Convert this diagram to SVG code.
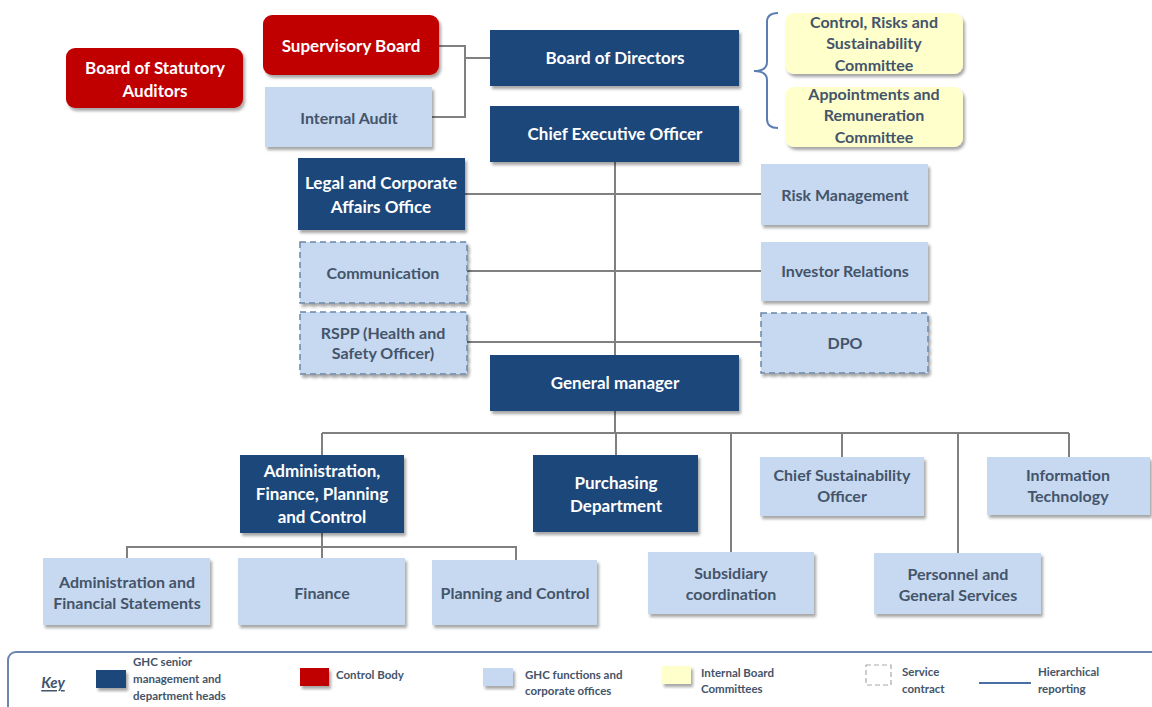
<svg xmlns="http://www.w3.org/2000/svg" width="1152" height="707" viewBox="0 0 1152 707">
<defs>
<filter id="sh" x="-10%" y="-10%" width="125%" height="135%">
<feDropShadow dx="2" dy="3" stdDeviation="1.5" flood-color="#000" flood-opacity="0.35"/>
</filter>
<style>
.navy{fill:#1F467A;filter:url(#sh)}
.red{fill:#C00000;filter:url(#sh)}
.lb{fill:#C6D9F0;filter:url(#sh)}
.lbd{fill:#C6D9F0;stroke:#6A86A8;stroke-width:1.5;stroke-dasharray:6,4;filter:url(#sh)}
.yel{fill:#FFFFCC;filter:url(#sh)}
text{font-family:Lato,"Open Sans","Liberation Sans",sans-serif;font-weight:bold;text-anchor:middle;dominant-baseline:central}
.w{fill:#fff;font-size:17px}
.d{fill:#44546A;font-size:16px}
.lg{fill:#44546A;font-size:11.5px;text-anchor:start;font-weight:bold}
.conn{fill:none;stroke:#808080;stroke-width:2}
</style>
</defs>
<rect width="1152" height="707" fill="#fff"/>
<g id="connectors" class="conn">
<polyline points="439,46 465,46 465,117 432,117"/>
<line x1="465" y1="58" x2="490" y2="58"/>
<line x1="615" y1="162" x2="615" y2="355"/>
<line x1="465" y1="194" x2="761" y2="194"/>
<line x1="467" y1="271" x2="761" y2="271"/>
<line x1="467" y1="342" x2="761" y2="342"/>
<line x1="615" y1="411" x2="615" y2="433"/>
<line x1="322" y1="433" x2="1069" y2="433"/>
<line x1="322" y1="433" x2="322" y2="455"/>
<line x1="616" y1="433" x2="616" y2="455"/>
<line x1="731" y1="433" x2="731" y2="552"/>
<line x1="842" y1="433" x2="842" y2="457"/>
<line x1="958" y1="433" x2="958" y2="553"/>
<line x1="1069" y1="433" x2="1069" y2="457"/>
<line x1="322" y1="533" x2="322" y2="558"/>
<polyline points="127,558 127,547 516,547 516,560"/>
<path d="M778,13 Q767,13 767,22 L767,62 Q767,71 754,71 Q767,71 767,80 L767,119 Q767,128 778,128" stroke="#5B7DB1"/>
</g>
<g id="n-statutory"><rect class="red" x="66" y="48" width="177" height="60" rx="9"/><text class="w" x="155" y="67">Board of Statutory</text><text class="w" x="155" y="90">Auditors</text></g>
<g id="n-supervisory"><rect class="red" x="263" y="15" width="176" height="60" rx="9"/><text class="w" x="351" y="45">Supervisory Board</text></g>
<g id="n-internal-audit"><rect class="lb" x="265" y="87" width="167" height="60"/><text class="d" x="349" y="117">Internal Audit</text></g>
<g id="n-bod"><rect class="navy" x="490" y="30" width="249" height="56"/><text class="w" x="615" y="57">Board of Directors</text></g>
<g id="n-ceo"><rect class="navy" x="490" y="106" width="249" height="56"/><text class="w" x="615" y="133">Chief Executive Officer</text></g>
<g id="n-crs"><rect class="yel" x="785" y="13" width="178" height="61" rx="9"/><text class="d" x="874" y="21">Control, Risks and</text><text class="d" x="874" y="42">Sustainability</text><text class="d" x="874" y="64">Committee</text></g>
<g id="n-arc"><rect class="yel" x="785" y="87" width="178" height="60" rx="9"/><text class="d" x="874" y="93">Appointments and</text><text class="d" x="874" y="114">Remuneration</text><text class="d" x="874" y="136">Committee</text></g>
<g id="n-legal"><rect class="navy" x="298" y="158" width="167" height="72"/><text class="w" x="381" y="182">Legal and Corporate</text><text class="w" x="381" y="206">Affairs Office</text></g>
<g id="n-risk"><rect class="lb" x="761" y="164" width="167" height="61"/><text class="d" x="845" y="194">Risk Management</text></g>
<g id="n-comm"><rect class="lbd" x="300" y="242" width="167" height="61"/><text class="d" x="383" y="272">Communication</text></g>
<g id="n-ir"><rect class="lb" x="761" y="242" width="167" height="59"/><text class="d" x="845" y="270">Investor Relations</text></g>
<g id="n-rspp"><rect class="lbd" x="300" y="312" width="167" height="62"/><text class="d" x="383" y="332">RSPP (Health and</text><text class="d" x="383" y="352">Safety Officer)</text></g>
<g id="n-dpo"><rect class="lbd" x="761" y="313" width="167" height="60"/><text class="d" x="845" y="342">DPO</text></g>
<g id="n-gm"><rect class="navy" x="490" y="355" width="249" height="56"/><text class="w" x="615" y="382">General manager</text></g>
<g id="n-afpc"><rect class="navy" x="240" y="455" width="164" height="78"/><text class="w" x="322" y="470">Administration,</text><text class="w" x="322" y="493">Finance, Planning</text><text class="w" x="322" y="516">and Control</text></g>
<g id="n-purch"><rect class="navy" x="533" y="455" width="165" height="77"/><text class="w" x="616" y="482">Purchasing</text><text class="w" x="616" y="505">Department</text></g>
<g id="n-cso"><rect class="lb" x="760" y="457" width="164" height="59"/><text class="d" x="842" y="474">Chief Sustainability</text><text class="d" x="842" y="495">Officer</text></g>
<g id="n-it"><rect class="lb" x="987" y="457" width="163" height="58"/><text class="d" x="1068" y="474">Information</text><text class="d" x="1068" y="495">Technology</text></g>
<g id="n-sub"><rect class="lb" x="648" y="552" width="166" height="62"/><text class="d" x="731" y="572">Subsidiary</text><text class="d" x="731" y="593">coordination</text></g>
<g id="n-pers"><rect class="lb" x="874" y="553" width="167" height="61"/><text class="d" x="958" y="573">Personnel and</text><text class="d" x="958" y="594">General Services</text></g>
<g id="n-afs"><rect class="lb" x="43" y="558" width="167" height="67"/><text class="d" x="127" y="581">Administration and</text><text class="d" x="127" y="602">Financial Statements</text></g>
<g id="n-fin"><rect class="lb" x="238" y="558" width="167" height="67"/><text class="d" x="322" y="592">Finance</text></g>
<g id="n-pc"><rect class="lb" x="432" y="560" width="165" height="65"/><text class="d" x="515" y="592">Planning and Control</text></g>
<g id="legend">
<rect x="8" y="652" width="1160" height="70" rx="8" fill="#fff" stroke="#6A86B0" stroke-width="2"/>
<text x="53" y="682" style="fill:#44546A;font-size:15px;font-style:italic;text-decoration:underline">Key</text>
<rect x="96" y="670" width="30" height="18" fill="#1F467A" filter="url(#sh)"/>
<text class="lg" x="133" y="661">GHC senior</text><text class="lg" x="133" y="678">management and</text><text class="lg" x="133" y="695">department heads</text>
<rect x="300" y="668" width="29" height="18" fill="#C00000" filter="url(#sh)"/>
<text class="lg" x="336" y="674">Control Body</text>
<rect x="483" y="668" width="30" height="18" fill="#C6D9F0" filter="url(#sh)"/>
<text class="lg" x="525" y="674">GHC functions and</text><text class="lg" x="525" y="690">corporate offices</text>
<rect x="662" y="666" width="29" height="18" fill="#FFFFCC" filter="url(#sh)"/>
<text class="lg" x="701" y="672">Internal Board</text><text class="lg" x="701" y="688">Committees</text>
<rect x="866" y="665" width="25" height="20" fill="#fff" stroke="#AAAAAA" stroke-width="1.2" stroke-dasharray="5,3"/>
<text class="lg" x="902" y="671">Service</text><text class="lg" x="902" y="688">contract</text>
<line x1="979" y1="683" x2="1031" y2="683" stroke="#4A6FA5" stroke-width="2"/>
<text class="lg" x="1038" y="671">Hierarchical</text><text class="lg" x="1038" y="688">reporting</text>
</g>
</svg>
